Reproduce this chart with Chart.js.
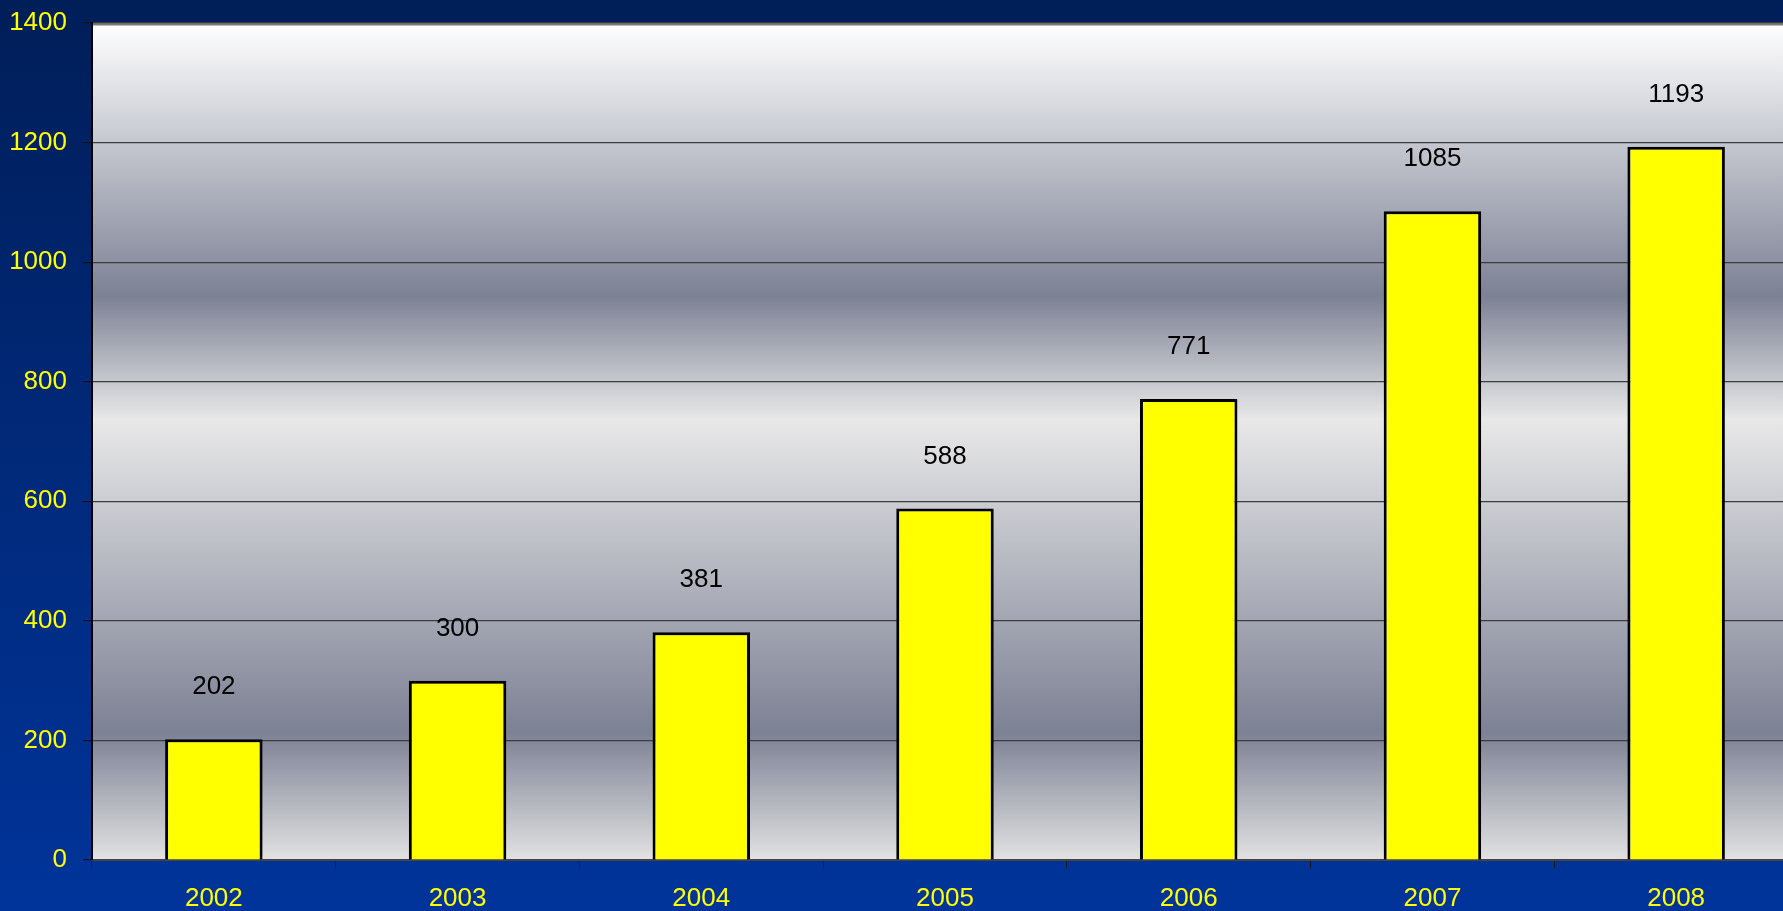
<!DOCTYPE html>
<html>
<head>
<meta charset="utf-8">
<script src="https://cdn.jsdelivr.net/npm/chart.js@4"></script>
<style>
  html, body { margin: 0; padding: 0; overflow: hidden; background: #002a7a; }
  .chart-box { width: 1800px; height: 911px; }
</style>
</head>
<body>
<div class="chart-box"><canvas id="growthChart"></canvas></div>
<script>
const years = ['2002', '2003', '2004', '2005', '2006', '2007', '2008'];
const counts = [202, 300, 381, 588, 771, 1085, 1193];
const yTicks = [0, 200, 400, 600, 800, 1000, 1200, 1400];

const FONT = '"Liberation Sans", Arial, sans-serif';

const backdrop = {
  id: 'backdrop',
  beforeDraw(chart) {
    const { ctx, width, height, chartArea: area } = chart;
    ctx.save();
    const bg = ctx.createLinearGradient(0, 0, 0, height);
    bg.addColorStop(0, '#001e58');
    bg.addColorStop(1, '#00349a');
    ctx.fillStyle = bg;
    ctx.fillRect(0, 0, width, height);

    const h = area.bottom - area.top;
    const gray = ctx.createLinearGradient(0, area.top, 0, area.bottom);
    gray.addColorStop(0, '#ffffff');
    gray.addColorStop(0.326, '#7c8194');
    gray.addColorStop(0.474, '#e8e8e8');
    gray.addColorStop(0.848, '#7c8194');
    gray.addColorStop(1, '#e2e2e2');
    ctx.fillStyle = gray;
    ctx.fillRect(area.left, area.top, area.right - area.left, h);

    ctx.strokeStyle = '#7a7a7a';
    ctx.lineWidth = 3;
    ctx.beginPath();
    ctx.moveTo(area.left, area.top + 1);
    ctx.lineTo(area.right, area.top + 1);
    ctx.stroke();
    ctx.restore();
  }
};

const valueLabels = {
  id: 'valueLabels',
  afterDatasetsDraw(chart) {
    const { ctx } = chart;
    const meta = chart.getDatasetMeta(0);
    ctx.save();
    ctx.fillStyle = '#000000';
    ctx.font = '26px ' + FONT;
    ctx.textAlign = 'center';
    ctx.textBaseline = 'middle';
    meta.data.forEach((bar, i) => {
      ctx.fillText(String(counts[i]), bar.x, bar.y - 52);
    });
    ctx.restore();
  }
};

new Chart(document.getElementById('growthChart'), {
  type: 'bar',
  data: {
    labels: years,
    datasets: [{
      data: counts,
      backgroundColor: '#ffff00',
      borderColor: '#000000',
      borderWidth: 3,
      borderSkipped: 'bottom',
      barPercentage: 0.4,
      categoryPercentage: 1
    }]
  },
  options: {
    responsive: true,
    maintainAspectRatio: false,
    animation: false,
    layout: { padding: { top: 23, right: 2, left: 0, bottom: 0 } },
    plugins: {
      legend: { display: false },
      tooltip: { enabled: false }
    },
    scales: {
      x: {
        offset: true,
        grid: {
          offset: true,
          drawOnChartArea: false,
          drawTicks: true,
          tickLength: 8,
          color: '#1a1a1a'
        },
        border: { color: '#444444', width: 2 },
        ticks: {
          color: '#ffff00',
          font: { family: FONT, size: 26 },
          padding: 15
        },
        afterFit(scale) { scale.height = 51; }
      },
      y: {
        min: 0,
        max: 1400,
        afterBuildTicks(scale) { scale.ticks = yTicks.map((v) => ({ value: v })); },
        grid: {
          color: '#3c3c3c',
          lineWidth: 1.2,
          drawTicks: true,
          tickLength: 9,
          tickColor: '#111111'
        },
        border: { color: '#000000', width: 2 },
        ticks: {
          color: '#ffff00',
          font: { family: FONT, size: 26, lineHeight: 0.5 },
          padding: 16,
          callback: (value) => String(value)
        },
        afterFit(scale) { scale.width = 92; }
      }
    }
  },
  plugins: [backdrop, valueLabels]
});
</script>
</body>
</html>
